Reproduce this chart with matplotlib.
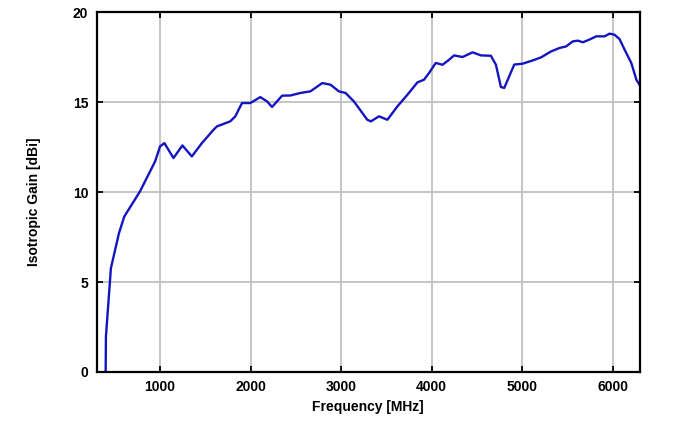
import numpy as np
import matplotlib
matplotlib.use("Agg")
import matplotlib.pyplot as plt

# frequency [MHz] and gain [dBi]
freq = [400, 403, 458, 547, 606, 687, 779, 853, 946, 1001, 1049, 1149, 1248, 1352,
        1463, 1591, 1629, 1776, 1832, 1906, 1998, 2108, 2183, 2238, 2349, 2441,
        2551, 2662, 2792, 2884, 2976, 3050, 3142, 3290, 3330, 3419, 3512, 3622,
        3733, 3844, 3917, 3972, 4046, 4121, 4194, 4249, 4342, 4453, 4545, 4655,
        4711, 4766, 4803, 4913, 5006, 5117, 5209, 5320, 5412, 5486, 5560, 5616,
        5671, 5744, 5819, 5911, 5966, 6021, 6076, 6132, 6206, 6262, 6300]
gain = [0.0, 1.97, 5.77, 7.72, 8.65, 9.3, 10.04, 10.78, 11.71, 12.55, 12.73, 11.9,
        12.6, 11.99, 12.73, 13.47, 13.66, 13.94, 14.22, 14.96, 14.96, 15.29, 15.05,
        14.74, 15.37, 15.38, 15.52, 15.61, 16.07, 15.98, 15.61, 15.52, 15.05, 14.03,
        13.94, 14.22, 14.03, 14.77, 15.42, 16.11, 16.26, 16.63, 17.19, 17.09, 17.37,
        17.61, 17.52, 17.78, 17.61, 17.59, 17.09, 15.85, 15.8, 17.1, 17.15, 17.33,
        17.5, 17.83, 18.02, 18.11, 18.39, 18.43, 18.34, 18.49, 18.67, 18.67, 18.82,
        18.76, 18.52, 17.93, 17.19, 16.26, 15.95]

xticks = [1000, 2000, 3000, 4000, 5000, 6000]
yticks = [0, 5, 10, 15, 20]

plt.rcParams['font.family'] = ['Liberation Sans', 'DejaVu Sans']
plt.rcParams['font.weight'] = 'bold'

fig = plt.figure(figsize=(7, 4.29), dpi=100)
ax = fig.add_axes([0.138, 0.133, 0.776, 0.838])

ax.plot(freq, gain, color='#1414c0', linewidth=1.7, solid_joinstyle='round')

ax.set_xlim(300, 6300)
ax.set_ylim(0, 20)
ax.set_xticks(xticks)
ax.set_yticks(yticks)
ax.grid(True, color='#c0c0c0', linewidth=1.3)
ax.set_axisbelow(True)
for s in ax.spines.values():
    s.set_linewidth(1.6)
ax.tick_params(direction='in', length=4, width=1.3, top=True, right=True,
               labelsize=10, pad=6)
for lab in ax.get_xticklabels() + ax.get_yticklabels():
    lab.set_fontweight('bold')

ax.set_xlabel('Frequency [MHz]', fontsize=10, fontweight='bold', labelpad=4)
ax.set_ylabel('Isotropic Gain [dBi]', fontsize=10, fontweight='bold')
ax.yaxis.set_label_coords(-0.103, 0.473)

fig.savefig('out.png', dpi=100)
